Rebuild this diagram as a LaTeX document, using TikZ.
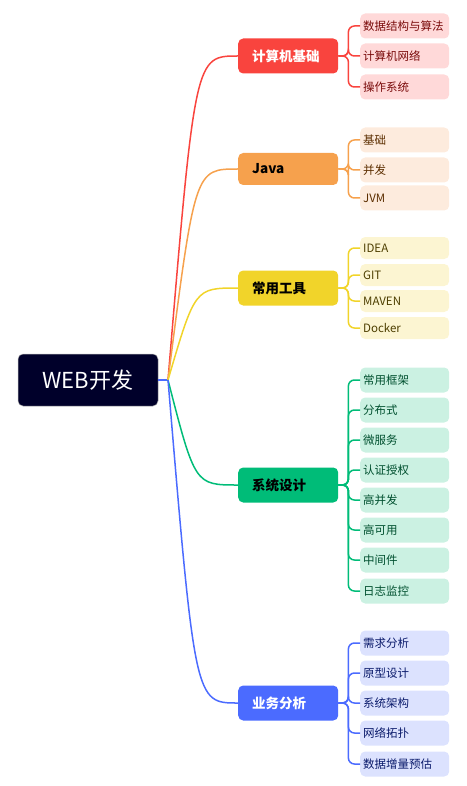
\documentclass[tikz,border=0pt]{standalone}
\usepackage{fontspec}
\setmainfont{Noto Sans CJK SC}
\definecolor{mapRoot}{HTML}{00002A}
\definecolor{mapRed}{HTML}{F9443E}
\definecolor{mapRedLeaf}{HTML}{FFD9D9}
\definecolor{mapRedText}{HTML}{7A0A0A}
\definecolor{mapOrange}{HTML}{F6A14D}
\definecolor{mapOrangeLeaf}{HTML}{FDEBDD}
\definecolor{mapOrangeText}{HTML}{5C2E00}
\definecolor{mapYellow}{HTML}{F1D42A}
\definecolor{mapYellowLeaf}{HTML}{FCF5D2}
\definecolor{mapYellowText}{HTML}{4D3E00}
\definecolor{mapGreen}{HTML}{00BC78}
\definecolor{mapGreenLeaf}{HTML}{CBF1E2}
\definecolor{mapGreenText}{HTML}{00502F}
\definecolor{mapBlue}{HTML}{4B6BFF}
\definecolor{mapBlueLeaf}{HTML}{DCE2FE}
\definecolor{mapBlueText}{HTML}{0A1A6B}
\usetikzlibrary{positioning}
\tikzset{
  rootbox/.style={rounded corners=5pt, fill=mapRoot, draw=gray!60, line width=0.5pt,
    minimum width=140pt, minimum height=52pt, text=white, font=\fontsize{22}{26}\selectfont},
  topic/.style={rounded corners=5pt, anchor=west, minimum height=35pt,
    text width=72pt, inner xsep=14pt, align=left, font=\fontsize{13.5}{16}\selectfont\bfseries},
  leaf/.style={rounded corners=5pt, anchor=west, minimum height=25pt,
    text width=83pt, inner xsep=3pt, align=left, font=\fontsize{11.5}{14}\selectfont},
  branch/.style={line width=1.5pt},
  bracket/.style={line width=1.5pt, rounded corners=6pt}
}
\begin{document}
\begin{tikzpicture}[x=1pt, y=-1pt]
  \useasboundingbox (0,0) rectangle (466,786);

  \node[rootbox] (root) at (88,380) {WEB开发};
  \coordinate (hub) at (168,380);

  % main topics
  \node[topic, fill=mapRed, text=white] (cs) at (238,56) {计算机基础};
  \node[topic, fill=mapOrange, text=black, minimum height=32pt] (java) at (238,169) {Java};
  \node[topic, fill=mapYellow, text=black] (tool) at (238,288) {常用工具};
  \node[topic, fill=mapGreen, text=black] (sys) at (238,485) {系统设计};
  \node[topic, fill=mapBlue, text=white] (biz) at (238,703) {业务分析};

  % leaves
  \node[leaf, fill=mapRedLeaf, text=mapRedText] (cs1) at (360,26) {数据结构与算法};
  \node[leaf, fill=mapRedLeaf, text=mapRedText] (cs2) at (360,56) {计算机网络};
  \node[leaf, fill=mapRedLeaf, text=mapRedText] (cs3) at (360,87) {操作系统};

  \node[leaf, fill=mapOrangeLeaf, text=mapOrangeText] (java1) at (360,140) {基础};
  \node[leaf, fill=mapOrangeLeaf, text=mapOrangeText] (java2) at (360,170) {并发};
  \node[leaf, fill=mapOrangeLeaf, text=mapOrangeText] (java3) at (360,198) {JVM};

  \node[leaf, fill=mapYellowLeaf, text=mapYellowText, minimum height=22pt] (tool1) at (360,248) {IDEA};
  \node[leaf, fill=mapYellowLeaf, text=mapYellowText, minimum height=22pt] (tool2) at (360,275) {GIT};
  \node[leaf, fill=mapYellowLeaf, text=mapYellowText, minimum height=22pt] (tool3) at (360,301) {MAVEN};
  \node[leaf, fill=mapYellowLeaf, text=mapYellowText, minimum height=22pt] (tool4) at (360,328) {Docker};

  \node[leaf, fill=mapGreenLeaf, text=mapGreenText] (sys1) at (360,380) {常用框架};
  \node[leaf, fill=mapGreenLeaf, text=mapGreenText] (sys2) at (360,410) {分布式};
  \node[leaf, fill=mapGreenLeaf, text=mapGreenText] (sys3) at (360,440) {微服务};
  \node[leaf, fill=mapGreenLeaf, text=mapGreenText] (sys4) at (360,470) {认证授权};
  \node[leaf, fill=mapGreenLeaf, text=mapGreenText] (sys5) at (360,500) {高并发};
  \node[leaf, fill=mapGreenLeaf, text=mapGreenText] (sys6) at (360,530) {高可用};
  \node[leaf, fill=mapGreenLeaf, text=mapGreenText] (sys7) at (360,560) {中间件};
  \node[leaf, fill=mapGreenLeaf, text=mapGreenText] (sys8) at (360,591) {日志监控};

  \node[leaf, fill=mapBlueLeaf, text=mapBlueText] (biz1) at (360,643) {需求分析};
  \node[leaf, fill=mapBlueLeaf, text=mapBlueText] (biz2) at (360,673) {原型设计};
  \node[leaf, fill=mapBlueLeaf, text=mapBlueText] (biz3) at (360,703) {系统架构};
  \node[leaf, fill=mapBlueLeaf, text=mapBlueText] (biz4) at (360,733) {网络拓扑};
  \node[leaf, fill=mapBlueLeaf, text=mapBlueText] (biz5) at (360,764) {数据增量预估};

  % root to topics
  \draw[branch, mapBlue] (root.east) -- (hub);
  \draw[branch, mapRed] (hub) .. controls (195,56) .. (cs.west);
  \draw[branch, mapOrange] (hub) .. controls (195,169) .. (java.west);
  \draw[branch, mapYellow] (hub) .. controls (195,288) .. (tool.west);
  \draw[branch, mapGreen] (hub) .. controls (195,485) .. (sys.west);
  \draw[branch, mapBlue] (hub) .. controls (195,703) .. (biz.west);

  % topics to leaves
  \foreach \i in {1,2,3}
    \draw[bracket, mapRed] (cs.east) -- ++(10,0) |- (cs\i.west);
  \foreach \i in {1,2,3}
    \draw[bracket, mapOrange] (java.east) -- ++(10,0) |- (java\i.west);
  \foreach \i in {1,...,4}
    \draw[bracket, mapYellow] (tool.east) -- ++(10,0) |- (tool\i.west);
  \foreach \i in {1,...,8}
    \draw[bracket, mapGreen] (sys.east) -- ++(10,0) |- (sys\i.west);
  \foreach \i in {1,...,5}
    \draw[bracket, mapBlue] (biz.east) -- ++(10,0) |- (biz\i.west);
\end{tikzpicture}
\end{document}
